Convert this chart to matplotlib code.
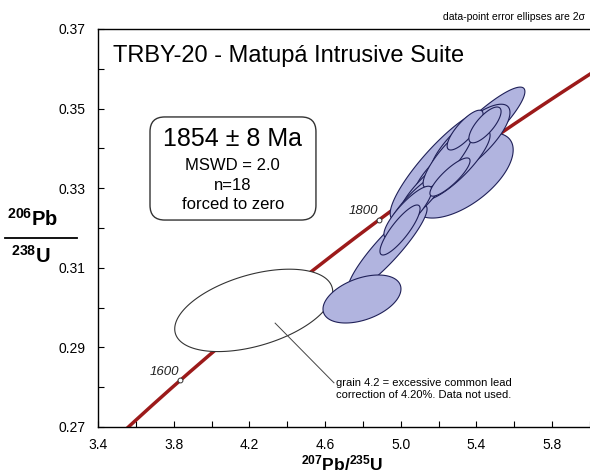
import numpy as np
import matplotlib
matplotlib.use("Agg")
import matplotlib.pyplot as plt
from matplotlib.patches import FancyBboxPatch
from matplotlib.lines import Line2D
from matplotlib.ticker import FixedLocator, FormatStrFormatter

plt.rcParams["font.family"] = ["Liberation Sans", "DejaVu Sans"]
plt.rcParams["mathtext.default"] = "regular"

# U-Pb spot data (207Pb/235U, 2s, 206Pb/238U, 2s, rho)
pb207_u235 = [5.208, 5.327, 5.408, 5.366, 4.930, 4.795, 5.287, 5.155, 5.091, 5.250, 5.038,
              4.996, 5.260, 5.340, 5.445]
err_x = [0.264, 0.267, 0.248, 0.211, 0.209, 0.206, 0.185, 0.159, 0.148, 0.132, 0.127,
         0.106, 0.106, 0.095, 0.085]
pb206_u238 = [0.3358, 0.3332, 0.3441, 0.3416, 0.31485, 0.30216, 0.3358, 0.3308, 0.3270, 0.3376, 0.3240,
              0.3195, 0.3328, 0.3446, 0.3459]
err_y = [0.0138, 0.0107, 0.0113, 0.0095, 0.0109, 0.00603, 0.0088, 0.0075, 0.0070, 0.0075, 0.0065,
         0.00628, 0.0048, 0.0050, 0.0045]
rho = [0.88, 0.60, 0.90, 0.78, 0.91, 0.42, 0.85, 0.88, 0.88, 0.85, 0.85,
       0.85, 0.85, 0.80, 0.75]

# rejected grain 4.2
rej_x, rej_sx, rej_y, rej_sy, rej_rho = 4.223, 0.4175, 0.2993, 0.01035, 0.45

# concordia
lam238 = 1.55125e-10
lam235 = 9.8485e-10
age_marks = [1600, 1700, 1800, 1900]

x_ticks = [3.4, 3.8, 4.2, 4.6, 5.0, 5.4, 5.8]
x_minor = [3.6, 4.0, 4.4, 4.8, 5.2, 5.6, 6.0]
y_ticks = [0.27, 0.29, 0.31, 0.33, 0.35, 0.37]
y_minor = [0.28, 0.30, 0.32, 0.34, 0.36]


def ellipse(x, sx, y, sy, r, n=240):
    t = np.linspace(0, 2 * np.pi, n)
    return x + sx * np.cos(t), y + sy * (r * np.cos(t) + np.sqrt(1 - r ** 2) * np.sin(t))


fig = plt.figure(figsize=(5.9, 4.7), dpi=100)
ax = fig.add_axes([98 / 590, 43 / 470, 492 / 590, 398 / 470])

t = np.linspace(1.4e9, 2.1e9, 400)
cx = np.exp(lam235 * t) - 1
cy = np.exp(lam238 * t) - 1
ax.plot(cx, cy, color="#9c1a1a", lw=2.5, zorder=2)
for a in age_marks:
    mx = np.exp(lam235 * a * 1e6) - 1
    my = np.exp(lam238 * a * 1e6) - 1
    ax.plot(mx, my, "o", ms=3.5, mfc="white", mec="#333333", mew=0.7, zorder=2.2)
    ax.annotate(str(a), (mx, my), xytext=(-1, 2), textcoords="offset points",
                ha="right", va="bottom", fontsize=9.5, style="italic", color="#222222", zorder=2.3)

ex, ey = ellipse(rej_x, rej_sx, rej_y, rej_sy, rej_rho)
ax.fill(ex, ey, fc="white", ec="#333333", lw=0.8, zorder=3)

for i in range(len(pb207_u235)):
    ex, ey = ellipse(pb207_u235[i], err_x[i], pb206_u238[i], err_y[i], rho[i])
    ax.fill(ex, ey, fc="#b1b4df", ec="#1f2058", lw=0.8, zorder=4 + i * 0.01)

ax.plot([4.336, 4.647], [0.2961, 0.2811], color="#444444", lw=0.7, zorder=5)
ax.text(4.66, 0.2822, "grain 4.2 = excessive common lead\ncorrection of 4.20%. Data not used.",
        fontsize=8, va="top", ha="left", linespacing=1.15, zorder=5)

ax.set_xlim(3.4, 6.0)
ax.set_ylim(0.27, 0.37)
ax.xaxis.set_major_locator(FixedLocator(x_ticks))
ax.xaxis.set_minor_locator(FixedLocator(x_minor))
ax.yaxis.set_major_locator(FixedLocator(y_ticks))
ax.yaxis.set_minor_locator(FixedLocator(y_minor))
ax.xaxis.set_major_formatter(FormatStrFormatter("%.1f"))
ax.yaxis.set_major_formatter(FormatStrFormatter("%.2f"))
ax.tick_params(which="both", direction="in", length=4, width=0.8, labelsize=10, pad=9)
ax.tick_params(axis="x", pad=8)
ax.spines["right"].set_visible(False)
for s in ["left", "bottom", "top"]:
    ax.spines[s].set_linewidth(1.0)

ax.text(0.03, 0.932, "TRBY-20 - Matupá Intrusive Suite", transform=ax.transAxes,
        fontsize=17, va="center", ha="left")

box = FancyBboxPatch((0.1057, 0.520), 0.3373, 0.259, transform=ax.transAxes,
                     boxstyle="round,pad=0,rounding_size=0.03", mutation_aspect=492 / 398,
                     fc="white", ec="#333333", lw=1.0, zorder=6)
ax.add_patch(box)
ax.text(0.274, 0.7236, "1854 ± 8 Ma", transform=ax.transAxes, fontsize=18,
        ha="center", va="center", zorder=7)
for yy, s in zip([0.658, 0.608, 0.558], ["MSWD = 2.0", "n=18", "forced to zero"]):
    ax.text(0.274, yy, s, transform=ax.transAxes, fontsize=12, ha="center", va="center", zorder=7)

fig.text(585 / 590, 1 - 17 / 470, "data-point error ellipses are 2σ", fontsize=7.5,
         ha="right", va="center")

fig.text(33 / 590, 1 - 219 / 470, r"$^{206}$Pb", fontsize=14.5, fontweight="bold", ha="center", va="center")
fig.add_artist(Line2D([5 / 590, 77 / 590], [1 - 238 / 470, 1 - 238 / 470], color="black", lw=1.3))
fig.text(31 / 590, 1 - 256 / 470, r"$^{238}$U", fontsize=14.5, fontweight="bold", ha="center", va="center")
fig.text(342 / 590, 1 - 463 / 470, r"$^{207}$Pb/$^{235}$U", fontsize=12.5, fontweight="bold",
         ha="center", va="center")

fig.savefig("out.png", dpi=100)
